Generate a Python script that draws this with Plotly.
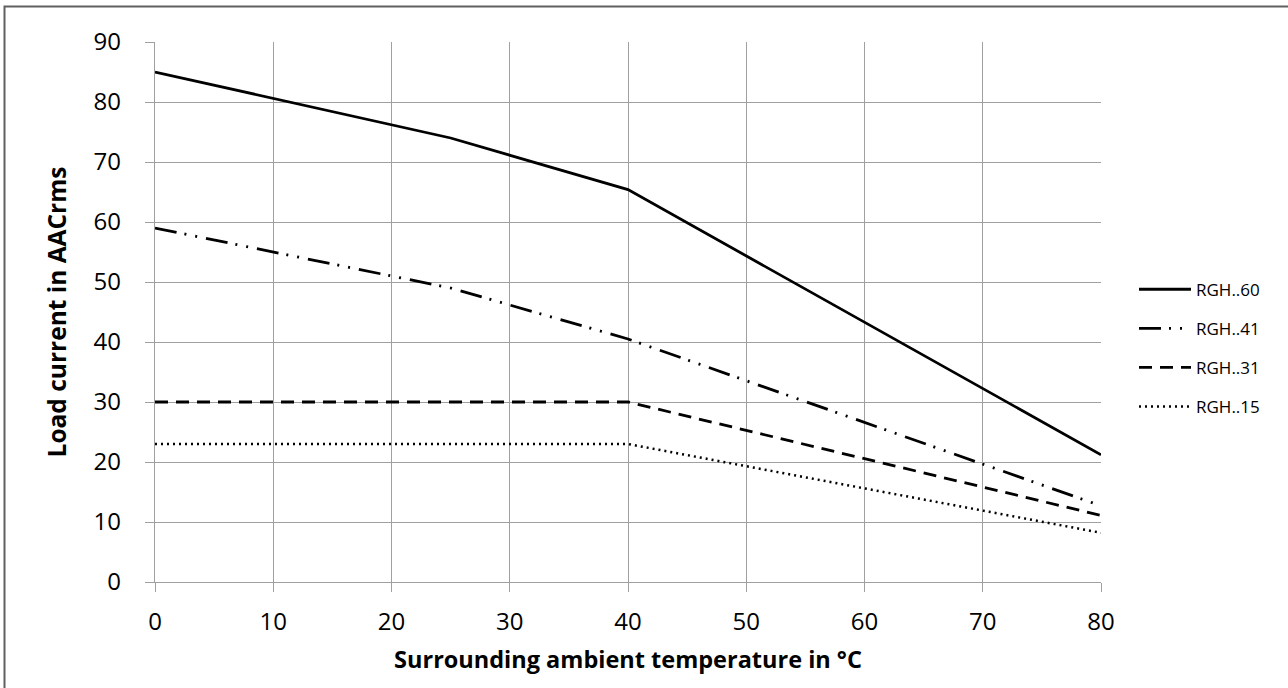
import plotly.graph_objects as go

# Data
names = ["RGH..60", "RGH..41", "RGH..31", "RGH..15"]
x_60 = [0, 25, 40, 80]
y_60 = [85, 74, 65.4, 21.2]
x_41 = [0, 25, 40, 80]
y_41 = [59, 49, 40.5, 12.7]
x_31 = [0, 40, 80]
y_31 = [30, 30, 11.1]
x_15 = [0, 40, 80]
y_15 = [23, 23, 8.2]

x_ticks = [0, 10, 20, 30, 40, 50, 60, 70, 80]
y_ticks = [0, 10, 20, 30, 40, 50, 60, 70, 80, 90]

FONT = "Open Sans"
W, H = 1288, 688
L, R, T, B = 155, 187, 42, 106
PW, PH = W - L - R, H - T - B

series = [
    (names[0], x_60, y_60, dict(color="black", width=2.8, dash="solid")),
    (names[1], x_41, y_41, dict(color="black", width=2.8, dash="22px,8px,2px,9px,2px,9px")),
    (names[2], x_31, y_31, dict(color="black", width=2.8, dash="13px,8px")),
    (names[3], x_15, y_15, dict(color="black", width=2.5, dash="2px,4px")),
]

fig = go.Figure()
for i, (n, xs, ys, ln) in enumerate(series):
    fig.add_trace(go.Scatter(x=xs, y=ys, mode="lines", name=n, line=ln,
                             legendgroup=f"g{i}"))

axis_common = dict(
    showgrid=True, gridcolor="#a0a0a0", gridwidth=1.3,
    showline=True, linecolor="#a0a0a0", linewidth=1.3,
    ticks="outside", ticklen=9, tickcolor="#a0a0a0", tickwidth=1.3,
    zeroline=False,
    tickfont=dict(family=FONT, size=24, color="black"),
)

fig.update_layout(
    width=W, height=H,
    margin=dict(l=L, r=R, t=T, b=B),
    paper_bgcolor="white", plot_bgcolor="white",
    font=dict(family=FONT, color="black"),
    xaxis=dict(range=[0, 80], tickvals=x_ticks,
               title=dict(text="<b>Surrounding ambient temperature in °C</b>",
                          font=dict(family=FONT, size=23.5, color="black"), standoff=15),
               ticklabelstandoff=9,
               **axis_common),
    yaxis=dict(range=[0, 90], tickvals=y_ticks,
               title=dict(text="<b>Load current in AACrms</b>",
                          font=dict(family=FONT, size=24.5, color="black"), standoff=20),
               ticklabelstandoff=19,
               **axis_common),
    legend=dict(x=(1134 - L) / PW, xanchor="left", y=0.433, yanchor="middle",
                font=dict(family=FONT, size=17, color="black"),
                tracegroupgap=14, itemwidth=52, bgcolor="rgba(0,0,0,0)"),
    showlegend=True,
)

# outer border of chart area
fig.add_shape(type="rect", xref="paper", yref="paper",
              x0=(4.5 - L) / PW, x1=(W + 5 - L) / PW,
              y0=(H - B - (H + 5)) / PH, y1=(H - B - 6.5) / PH,
              line=dict(color="#606060", width=2), fillcolor="rgba(0,0,0,0)",
              layer="below")

fig.write_html("out.html", config={"displayModeBar": False},
               post_script="document.body.style.margin='0';document.body.style.overflow='hidden';")
